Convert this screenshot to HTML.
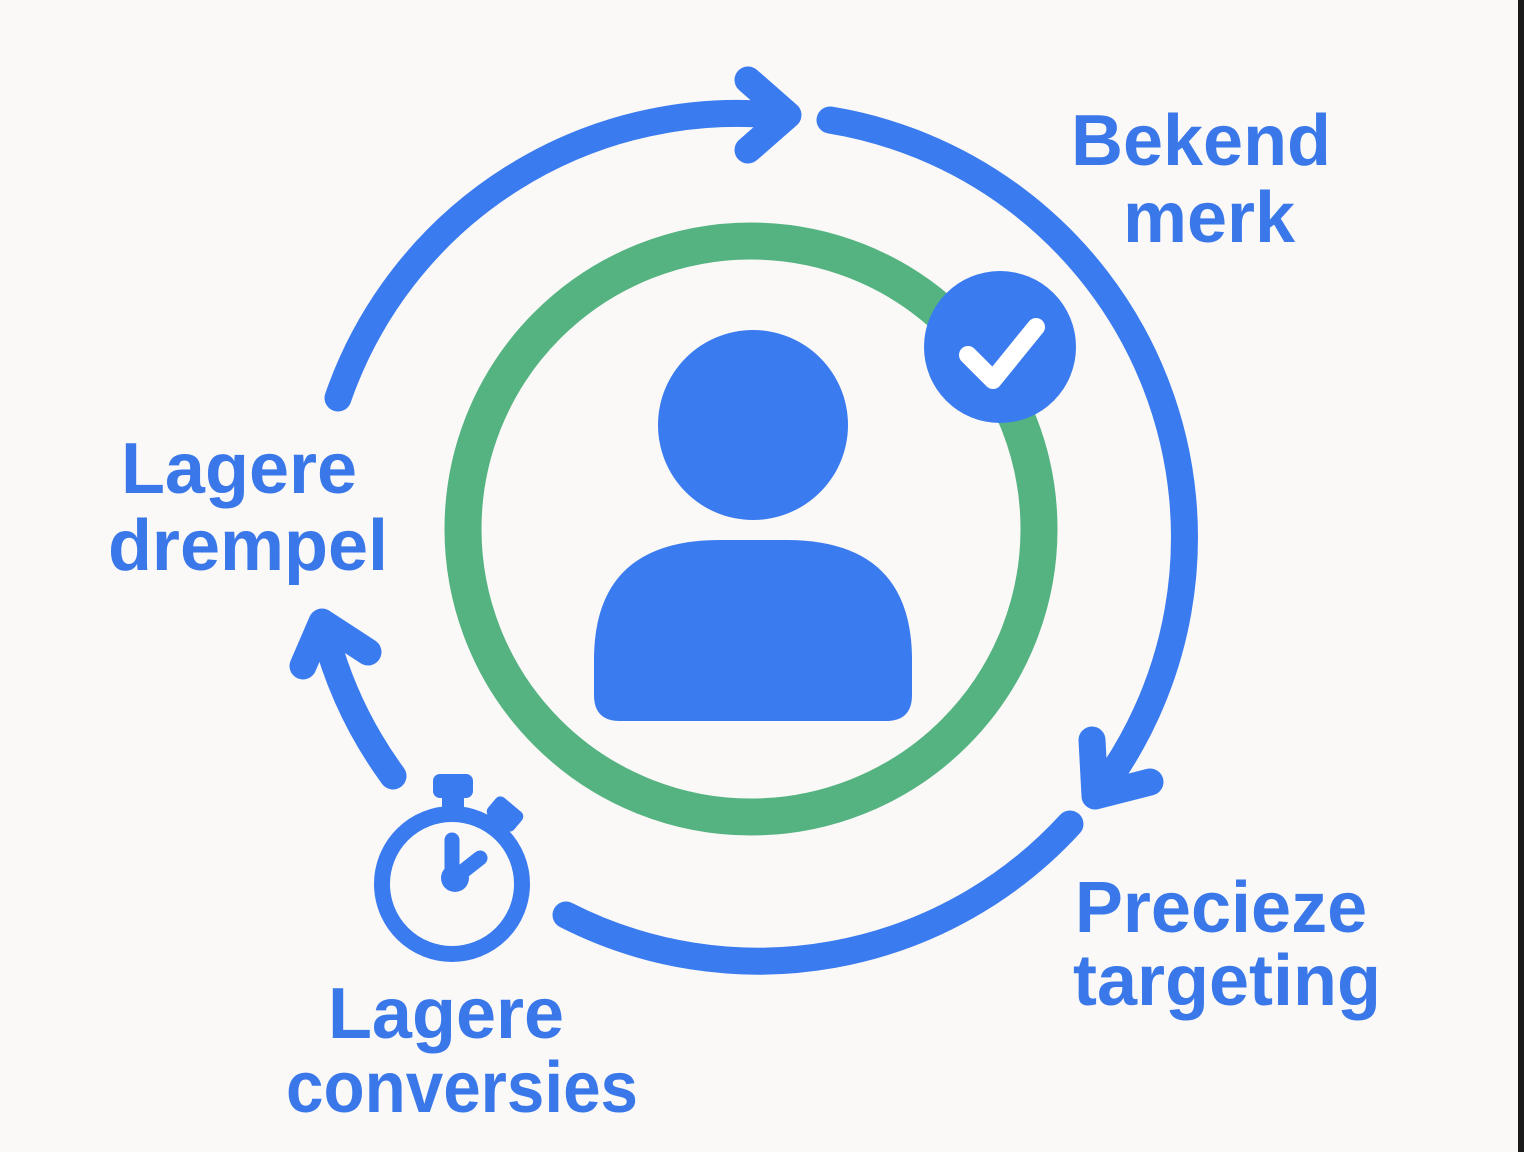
<!DOCTYPE html>
<html><head><meta charset="utf-8"><style>
html,body{margin:0;padding:0;background:#faf9f7;}
svg{display:block;}
text{font-family:"Liberation Sans",sans-serif;font-weight:bold;font-size:72px;fill:#3a78ea;text-anchor:middle;}
</style></head><body>
<svg width="1524" height="1152" viewBox="0 0 1524 1152">
<rect width="1524" height="1152" fill="#faf9f7"/>
<rect x="1518" y="0" width="6" height="1152" fill="#1a1a1a"/>
<g fill="none" stroke="#3a7bf0" stroke-width="27" stroke-linecap="round" stroke-linejoin="round">
<path d="M338 398 A423 423 0 0 1 785 116"/>
<path d="M748 80 L788 115 L748 150"/>
<path d="M830 120 A423 423 0 0 1 1097 795"/>
<path d="M1092 740 L1095 796 L1150 782"/>
<path d="M1070 824 A423 423 0 0 1 566 915"/>
<path d="M393 776 A423 423 0 0 1 323 625"/>
<path d="M303 666 L322 622 L368 652"/>
</g>
<circle cx="751" cy="529" r="288" fill="none" stroke="#55b381" stroke-width="37"/>
<circle cx="1000" cy="347" r="76" fill="#3a7bf0"/>
<path d="M968 355 L993 380 L1036 327" fill="none" stroke="#fff" stroke-width="18" stroke-linecap="round" stroke-linejoin="round"/>
<circle cx="753" cy="425" r="95" fill="#3a7bf0"/>
<path d="M594 660 Q594 540 720 540 L786 540 Q912 540 912 660 L912 695 Q912 721 886 721 L620 721 Q594 721 594 695 Z" fill="#3a7bf0"/>
<circle cx="452" cy="884" r="70" fill="none" stroke="#3a7bf0" stroke-width="16"/>
<rect x="433" y="774" width="40" height="24" rx="7" fill="#3a7bf0"/>
<rect x="442" y="790" width="22" height="24" fill="#3a7bf0"/>
<rect x="488" y="802" width="34" height="24" rx="6" fill="#3a7bf0" transform="rotate(40 505 814)"/>
<path d="M452 840 L452 880 L480 858" fill="none" stroke="#3a7bf0" stroke-width="15" stroke-linecap="round" stroke-linejoin="round"/>
<circle cx="455" cy="878" r="14" fill="#3a7bf0"/>
<text x="1201" y="165">Bekend</text>
<text x="1209" y="242">merk</text>
<text x="239" y="493">Lagere</text>
<text x="248" y="570">drempel</text>
<text x="1221" y="932">Precieze</text>
<text x="1227" y="1005">targeting</text>
<text x="446" y="1038">Lagere</text>
<text x="462" y="1112" textLength="352" lengthAdjust="spacingAndGlyphs">conversies</text>
</svg>
</body></html>
